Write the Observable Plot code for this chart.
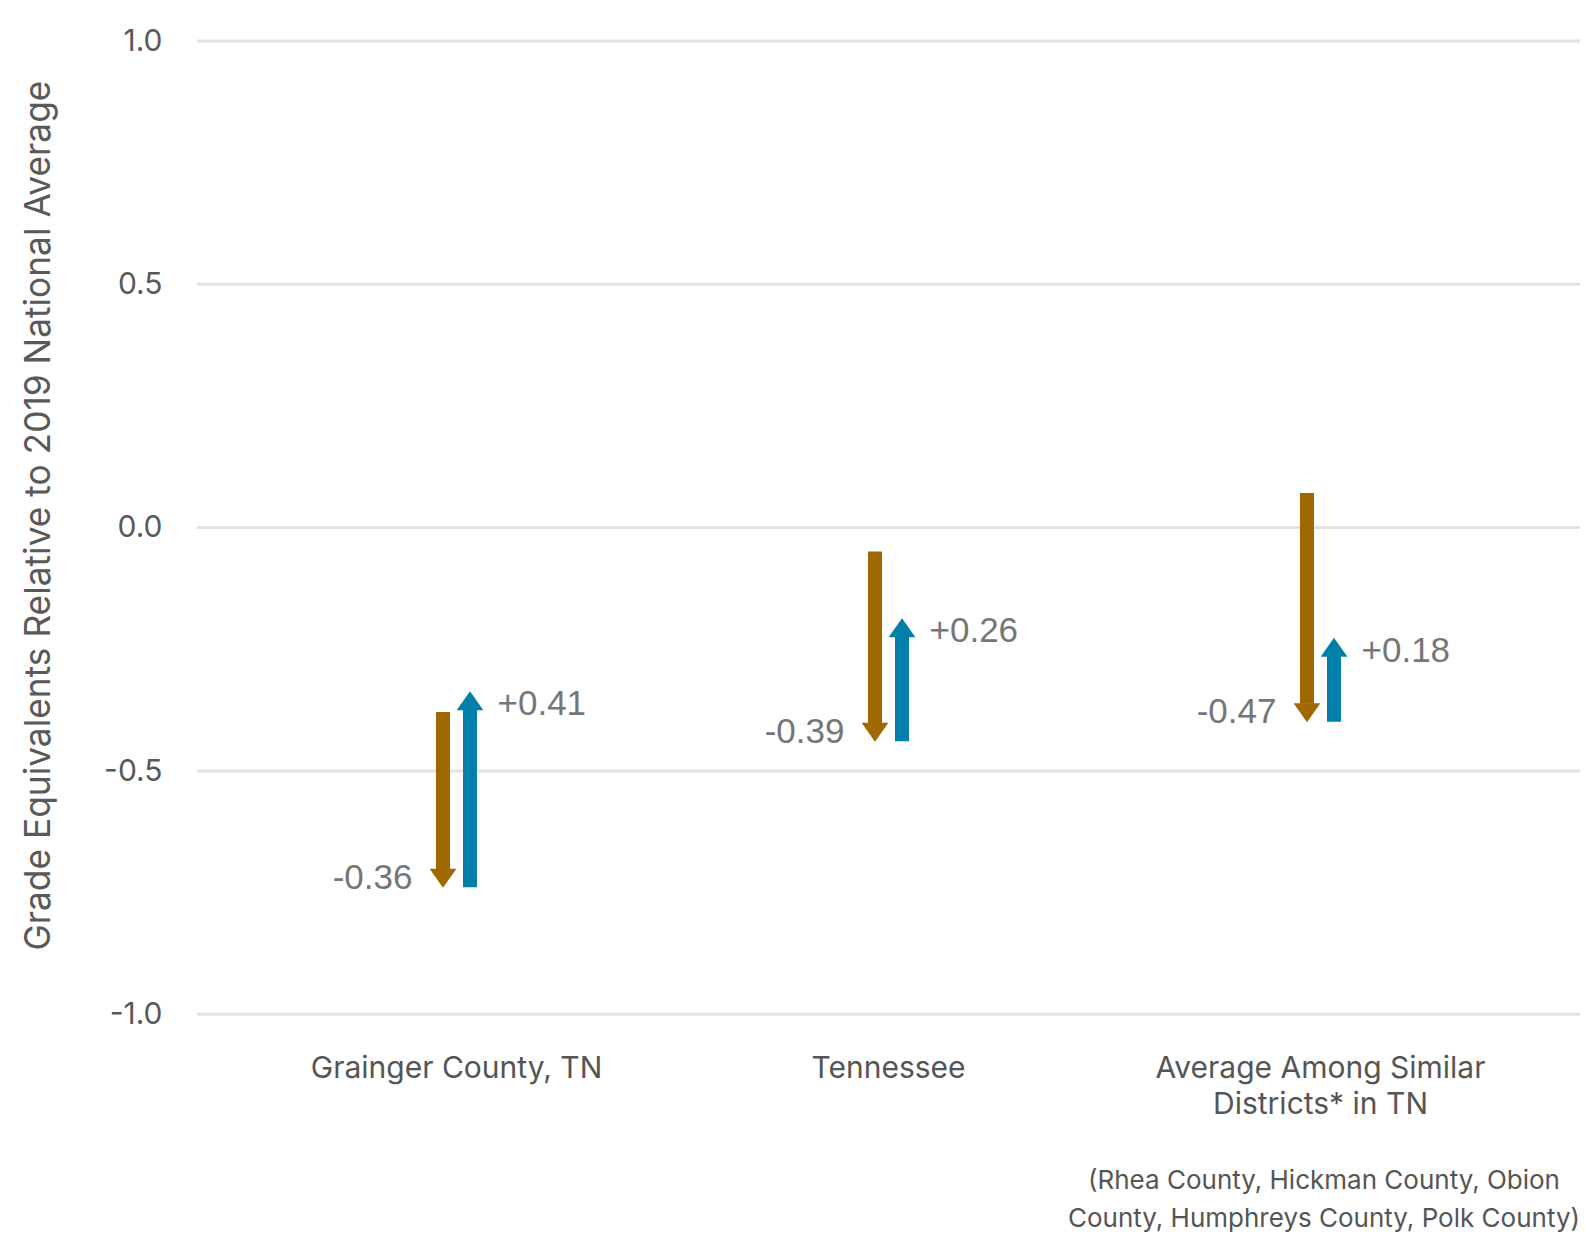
<!DOCTYPE html>
<html>
<head>
<meta charset="utf-8">
<script src="https://cdn.jsdelivr.net/npm/d3@7"></script>
<script src="https://cdn.jsdelivr.net/npm/@observablehq/plot@0.6"></script>
<style>
  body { margin: 0; background: #fff; }
  #chart svg { overflow: visible; }
</style>
</head>
<body>
<div id="chart"></div>
<script>
// ---- data ----
const categories = ["Grainger County, TN", "Tennessee", "Average Among Similar\nDistricts* in TN"];
const startValues = [-0.38, -0.05, 0.07];
const declines = [-0.36, -0.39, -0.47];
const recoveries = [0.41, 0.26, 0.18];
const yTicks = [-1, -0.5, 0, 0.5, 1];
const yLabel = "Grade Equivalents Relative to 2019 National Average";
const caption = "(Rhea County, Hickman County, Obion\nCounty, Humphreys County, Polk County)";

const brown = "#A06800";
const blue = "#0080A8";

const rows = categories.map((c, i) => {
  const start = startValues[i];
  const low = +(start + declines[i]).toFixed(2);
  const recovered = +(low + recoveries[i]).toFixed(2);
  return {category: c, start, low, recovered, decline: declines[i], recovery: recoveries[i]};
});

// arrow heads (tip near origin)
const downHead = {draw(ctx) { ctx.moveTo(-13.4, -19); ctx.lineTo(13.4, -19); ctx.lineTo(0, 0); ctx.closePath(); }};
const upHead = {draw(ctx) { ctx.moveTo(-13.4, 22); ctx.lineTo(13.4, 22); ctx.lineTo(0, 3); ctx.closePath(); }};

const chart = Plot.plot({
  width: 1586,
  height: 1234,
  marginTop: 40.5,
  marginBottom: 220.3,
  marginLeft: 197,
  marginRight: 6,
  style: {fontFamily: "Inter, 'Noto Sans', sans-serif", fontSize: "30px", color: "#595959", background: "#fff"},
  x: {type: "point", domain: categories, padding: 0.5, insetLeft: 42, insetRight: 43, axis: null},
  y: {domain: [-1, 1], axis: null},
  marks: [
    Plot.ruleY(yTicks, {stroke: "#e2e2e2", strokeWidth: 3}),
    Plot.axisY(yTicks, {tickSize: 0, tickPadding: 35, tickFormat: d => d.toFixed(1), label: null, fontSize: 30, letterSpacing: 0.5, fontVariant: "normal", fill: "#595959"}),
    Plot.text([yLabel], {frameAnchor: "left", rotate: -90, dx: -159, dy: -12, textAnchor: "middle", lineAnchor: "middle", fontSize: 35.3, fill: "#595959"}),
    // decline arrows
    Plot.ruleX(rows, {x: "category", y1: "start", y2: "low", dx: -13.5, stroke: brown, strokeWidth: 14, insetBottom: 18}),
    Plot.dot(rows, {x: "category", y: "low", dx: -13.5, symbol: downHead, fill: brown, stroke: "none", r: 5}),
    // recovery arrows (y1 = top, y2 = bottom)
    Plot.ruleX(rows, {x: "category", y1: "recovered", y2: "low", dx: 13.5, stroke: blue, strokeWidth: 14, insetTop: 21}),
    Plot.dot(rows, {x: "category", y: "recovered", dx: 13.5, symbol: upHead, fill: blue, stroke: "none", r: 5}),
    // value labels
    Plot.text(rows, {x: "category", y: "low", text: d => d.decline.toFixed(2), dx: -44, dy: -10, textAnchor: "end", fontSize: 35, letterSpacing: 0.6, fontFamily: "'Liberation Sans', Arial, sans-serif", fill: "#767676"}),
    Plot.text(rows, {x: "category", y: "recovered", text: d => "+" + d.recovery.toFixed(2), dx: 41, dy: 16, textAnchor: "start", fontSize: 35, fontFamily: "'Liberation Sans', Arial, sans-serif", fill: "#767676"}),
    // category labels
    Plot.text(rows, {x: "category", text: "category", frameAnchor: "bottom", lineAnchor: "top", dy: 39, fontSize: 30, lineHeight: 1.18, fill: "#555"}),
    // caption
    Plot.text([{category: categories[2], caption}], {x: "category", text: "caption", frameAnchor: "bottom", lineAnchor: "top", dy: 148, dx: 3.5, fontSize: 26, lineHeight: 1.45, letterSpacing: 0.5, fill: "#555"})
  ]
});
document.getElementById("chart").appendChild(chart);
</script>
</body>
</html>
